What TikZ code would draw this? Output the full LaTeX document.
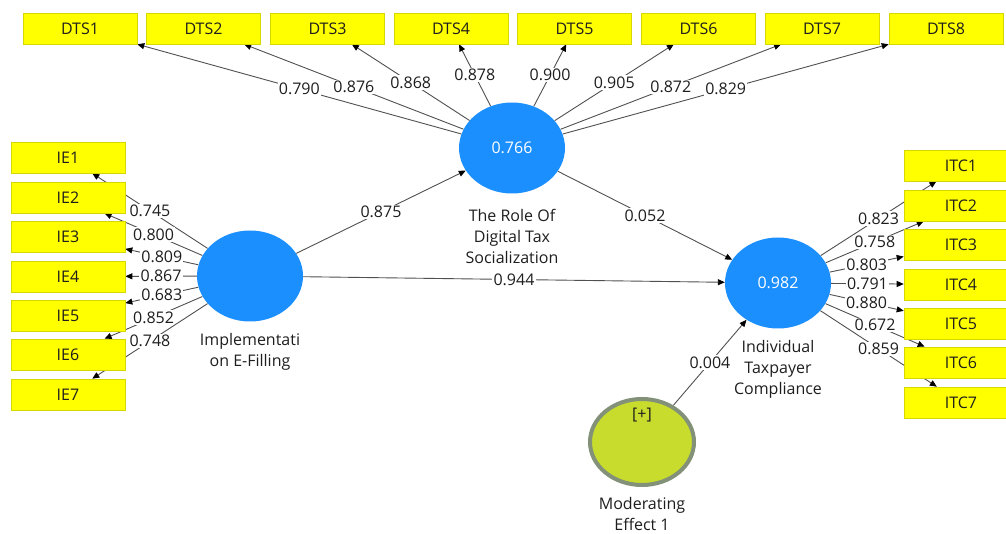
\documentclass[tikz,border=0pt]{standalone}
\usepackage{fontspec}
\setmainfont{Open Sans}
\usetikzlibrary{shapes.geometric,arrows.meta,backgrounds}
\definecolor{boxyellow}{RGB}{255,255,0}
\definecolor{boxborder}{RGB}{215,215,0}
\definecolor{lvblue}{RGB}{28,143,255}
\definecolor{modgreen}{RGB}{200,220,45}
\definecolor{modborder}{RGB}{130,145,120}
\definecolor{linegray}{RGB}{80,80,80}
\definecolor{txt}{RGB}{30,30,30}
\begin{document}
\begin{tikzpicture}[x=1pt,y=-1pt,
 every node/.style={font=\fontsize{16}{21}\selectfont, text=txt},
 ind/.style={draw=boxborder, fill=boxyellow, line width=0.6pt, minimum width=114pt, minimum height=31pt, inner sep=0pt},
 lv/.style={ellipse, fill=lvblue, minimum width=106pt, minimum height=91pt, inner sep=0pt, text=white},
 modlv/.style={ellipse, fill=modgreen, draw=modborder, line width=4pt, minimum width=104pt, minimum height=86pt, inner sep=0pt},
 edge/.style={draw=linegray, line width=0.9pt, -{Stealth[length=7pt,width=6pt,inset=0pt,color=black]}},
 lbl/.style={fill=white, inner sep=1.2pt, midway},
 lvname/.style={align=center}]
\useasboundingbox (0,0) rectangle (1006,534);
% latent variables
\node[lv] (dts) at (512,148) {0.766};
\node[lv] (ie) at (250,276) {};
\node[lv] (itc) at (778,283) {0.982};
\node[modlv] (mod) at (642,442) {};
\node (modplus) at (642,415) {[+]};
\node[lvname] (dtsname) at (512,236.5) {The Role Of\\Digital Tax\\Socialization};
\node[lvname] (iename) at (250,352) {Implementati\\on E-Filling};
\node[lvname] (itcname) at (778,369.5) {Individual\\Taxpayer\\Compliance};
\node[lvname] (modname) at (642,514) {Moderating\\Effect 1};
% indicators
\foreach \i/\x in {1/80,2/203.5,3/327.5,4/451,5/574.5,6/698.5,7/822,8/946}
  \node[ind] (dts\i) at (\x,28.5) {DTS\i};
\foreach \i/\y in {1/157.5,2/197.5,3/236.5,4/276.5,5/315.5,6/354.5,7/394.5}
  \node[ind] (ie\i) at (68,\y) {IE\i};
\foreach \i/\y in {1/165.5,2/205.5,3/244.5,4/284.5,5/323.5,6/362.5,7/402.5}
  \node[ind] (itc\i) at (961,\y) {ITC\i};
\begin{pgfonlayer}{background}
\foreach \i/\v in {1/0.790,2/0.876,3/0.868,4/0.878,5/0.900,6/0.905,7/0.872,8/0.829}
  \draw[edge] (dts) -- node[lbl]{\v} (dts\i);
\foreach \i/\v in {1/0.745,2/0.800,3/0.809,4/0.867,5/0.683,6/0.852,7/0.748}
  \draw[edge] (ie) -- node[lbl]{\v} (ie\i);
\foreach \i/\v in {1/0.823,2/0.758,3/0.803,4/0.791,5/0.880,6/0.672,7/0.859}
  \draw[edge] (itc) -- node[lbl]{\v} (itc\i);
\draw[edge] (ie) -- node[lbl]{0.875} (dts);
\draw[edge] (ie) -- node[lbl]{0.944} (itc);
\draw[edge] (dts) -- node[lbl]{0.052} (itc);
\draw[edge] (mod) -- node[lbl]{0.004} (itc);
\end{pgfonlayer}
\end{tikzpicture}
\end{document}
